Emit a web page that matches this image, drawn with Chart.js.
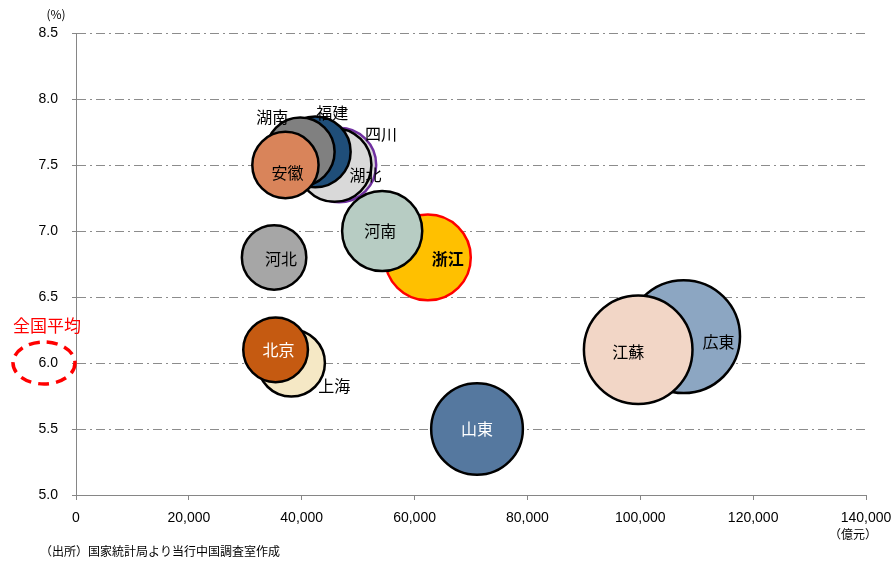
<!DOCTYPE html>
<html>
<head>
  <meta charset="utf-8">
  <title>GDP and growth by province</title>
  <script src="https://cdn.jsdelivr.net/npm/chart.js"></script>
  <style>
    body { margin: 0; background: #fff; }
    #wrap { width: 891px; height: 561px; }
  </style>
</head>
<body>
  <div id="wrap"><canvas id="bubble" width="891" height="561"></canvas></div>

  <script>
    // provinces, bottom of the stack first (later ones are drawn on top)
    const provinces = ['広東', '江蘇', '山東', '浙江', '四川', '湖北', '福建', '湖南', '安徽', '河南', '河北', '上海', '北京'];
    const gdp       = [107671, 99631, 71067, 62352, 46616, 45828, 42395, 39752, 37114, 54259, 35104, 38155, 35371]; // 億元
    const growth    = [6.2, 6.1, 5.5, 6.8, 7.5, 7.5, 7.6, 7.6, 7.5, 7.0, 6.8, 6.0, 6.1];                             // %
    const xTicks = [0, 20000, 40000, 60000, 80000, 100000, 120000, 140000];
    const yTicks = [5.0, 5.5, 6.0, 6.5, 7.0, 7.5, 8.0, 8.5];

    // look of each bubble
    const fills   = ['#8CA6C2', '#F2D6C6', '#55789F', '#FFC000', '#D9D9D9', '#D9D9D9', '#1F4E79', '#808080', '#D9845A', '#B7CCC3', '#A6A6A6', '#F5E8C5', '#C55A11'];
    const borders = ['#000', '#000', '#000', '#FF0000', '#7030A0', '#000', '#000', '#000', '#000', '#000', '#000', '#000', '#000'];
    const labelStyle = {
      '広東': { dx: 35, dy: 5 },
      '江蘇': { dx: -10, dy: 2 },
      '山東': { dx: 0, dy: 0, color: '#fff' },
      '浙江': { dx: 20, dy: 2, bold: true },
      '四川': { dx: 42, dy: -31 },
      '湖北': { dx: 31, dy: 10 },
      '福建': { dx: 17, dy: -39 },
      '湖南': { dx: -28, dy: -35 },
      '安徽': { dx: 2, dy: 8 },
      '河南': { dx: -2, dy: 0 },
      '河北': { dx: 7, dy: 2 },
      '上海': { dx: 43, dy: 23 },
      '北京': { dx: 3, dy: 0, color: '#fff' }
    };

    const bubbleScale = 0.172;
    const points = provinces.map((p, i) => ({ x: gdp[i], y: growth[i], r: bubbleScale * Math.sqrt(gdp[i]) }));

    const cjk = '"Noto Sans CJK JP", "Noto Sans", sans-serif';

    const extras = {
      id: 'extras',
      afterDatasetsDraw(chart) {
        const ctx = chart.ctx;
        const meta = chart.getDatasetMeta(0);
        ctx.save();
        ctx.textAlign = 'center';
        ctx.textBaseline = 'middle';
        meta.data.forEach((el, i) => {
          const s = labelStyle[provinces[i]];
          ctx.font = (s.bold ? 'bold ' : '') + '16px ' + cjk;
          ctx.fillStyle = s.color || '#000';
          ctx.fillText(provinces[i], el.x + s.dx, el.y + s.dy);
        });
        ctx.restore();
      },
      afterDraw(chart) {
        const ctx = chart.ctx;
        const y6 = chart.scales.y.getPixelForValue(6.0);
        ctx.save();
        // national average marker
        ctx.strokeStyle = '#FF0000';
        ctx.lineWidth = 3.5;
        ctx.setLineDash([11, 7]);
        ctx.beginPath();
        ctx.ellipse(44, y6, 31, 21, 0, 0, Math.PI * 2);
        ctx.stroke();
        ctx.setLineDash([]);
        ctx.fillStyle = '#FF0000';
        ctx.font = '17px ' + cjk;
        ctx.textAlign = 'center';
        ctx.textBaseline = 'middle';
        ctx.fillText('全国平均', 47, y6 - 37);
        // units and source
        ctx.fillStyle = '#000';
        ctx.font = '12px ' + cjk;
        ctx.fillText('(%)', 56, 14);
        ctx.fillText('（億元）', 853, 534);
        ctx.textAlign = 'left';
        ctx.fillText('（出所）国家統計局より当行中国調査室作成', 40, 551);
        ctx.restore();
      }
    };

    new Chart(document.getElementById('bubble'), {
      type: 'bubble',
      data: {
        datasets: [{
          data: points,
          backgroundColor: fills,
          borderColor: borders,
          borderWidth: 2.5,
          hoverBorderWidth: 2.5
        }]
      },
      options: {
        responsive: false,
        animation: false,
        devicePixelRatio: 1,
        layout: { autoPadding: false, padding: { top: 33, right: 25, left: 0, bottom: 0 } },
        plugins: { legend: { display: false }, tooltip: { enabled: false } },
        scales: {
          x: {
            type: 'linear',
            min: 0,
            max: 140000,
            afterBuildTicks: s => { s.ticks = xTicks.map(v => ({ value: v })); },
            afterFit: s => { s.height = 66; s.paddingRight = 0; s.paddingLeft = 0; },
            ticks: {
              color: '#000',
              padding: 10,
              maxRotation: 0,
              font: { family: '"Liberation Sans", Arial, sans-serif', size: 14 },
              callback: v => v.toLocaleString('en-US')
            },
            grid: { drawOnChartArea: false, drawTicks: true, tickLength: 5, color: '#868686' },
            border: { color: '#868686', width: 1 }
          },
          y: {
            min: 5,
            max: 8.5,
            afterBuildTicks: s => { s.ticks = yTicks.map(v => ({ value: v })); },
            afterFit: s => { s.width = 76; s.paddingTop = 0; s.paddingBottom = 0; },
            ticks: {
              color: '#000',
              padding: 14,
              font: { family: '"Liberation Sans", Arial, sans-serif', size: 14 },
              callback: v => v.toFixed(1)
            },
            grid: { color: '#8C8C8C', tickLength: 4, tickColor: '#868686', tickBorderDash: [] },
            border: { color: '#868686', width: 1, dash: [9, 4, 2, 4] }
          }
        }
      },
      plugins: [extras]
    });
  </script>
</body>
</html>
